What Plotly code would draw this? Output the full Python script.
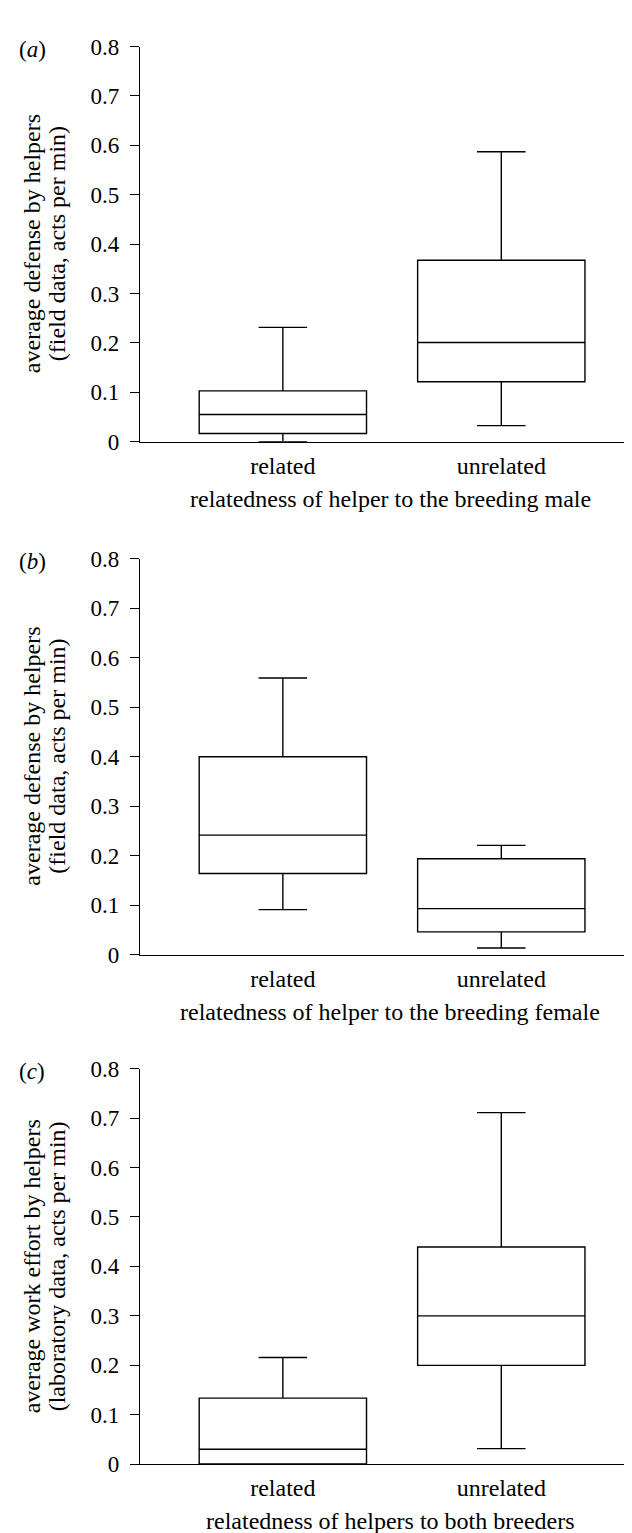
import plotly.graph_objects as go

# ---- data ----
categories = ["related", "unrelated"]
y_ticks = [0, 0.1, 0.2, 0.3, 0.4, 0.5, 0.6, 0.7, 0.8]
y_ticktext = ["0", "0.1", "0.2", "0.3", "0.4", "0.5", "0.6", "0.7", "0.8"]

# panel (a): related / unrelated to breeding male
a_low = [0.0, 0.0325]
a_q1 = [0.0166, 0.1214]
a_med = [0.055, 0.201]
a_q3 = [0.103, 0.3675]
a_high = [0.2315, 0.587]

# panel (b): related / unrelated to breeding female
b_low = [0.0908, 0.0133]
b_q1 = [0.1637, 0.0457]
b_med = [0.2413, 0.0928]
b_q3 = [0.3997, 0.1935]
b_high = [0.559, 0.2207]

# panel (c): related / unrelated to both breeders (laboratory)
c_low = [0.0, 0.0312]
c_q1 = [0.0, 0.1997]
c_med = [0.0299, 0.2998]
c_q3 = [0.1333, 0.439]
c_high = [0.2156, 0.711]

panel_labels = ["(<i>a</i>)", "(<i>b</i>)", "(<i>c</i>)"]
x_titles = [
    "relatedness of helper to the breeding male",
    "relatedness of helper to the breeding female",
    "relatedness of helpers to both breeders",
]
y_title_line1 = [
    "average defense by helpers",
    "average defense by helpers",
    "average work effort by helpers",
]
y_title_line2 = [
    "(field data, acts per min)",
    "(field data, acts per min)",
    "(laboratory data, acts per min)",
]

W, H = 632, 1533
FONT = "Liberation Serif"

# pixel geometry of each panel: y of 0.8 and y of 0
panel_px = [(27, 428.7), (547.7, 950), (1066, 1468)]
x_left_px = 132

fig = go.Figure()

data_sets = [
    (a_low, a_q1, a_med, a_q3, a_high),
    (b_low, b_q1, b_med, b_q3, b_high),
    (c_low, c_q1, c_med, c_q3, c_high),
]

annotations = []
for i, (low, q1, med, q3, high) in enumerate(data_sets):
    xa = "x" if i == 0 else f"x{i+1}"
    ya = "y" if i == 0 else f"y{i+1}"
    fig.add_trace(go.Box(
        x=[0, 1], q1=q1, median=med, q3=q3,
        lowerfence=low, upperfence=high,
        width=0.766, whiskerwidth=0.29,
        fillcolor="white",
        line=dict(color="black", width=1.4),
        boxpoints=False, hoverinfo="skip",
        xaxis=xa, yaxis=ya, showlegend=False,
    ))
    top_px, bot_px = panel_px[i]
    dom = [1 - bot_px / H, 1 - top_px / H]
    xkey = "xaxis" if i == 0 else f"xaxis{i+1}"
    ykey = "yaxis" if i == 0 else f"yaxis{i+1}"
    fig.update_layout(**{
        xkey: dict(
            domain=[x_left_px / W, 1], range=[-0.654, 1.635],
            tickvals=[0, 1], ticktext=categories,
            showline=True, linecolor="black", linewidth=1.4,
            ticks="outside", ticklen=2, tickcolor="rgba(0,0,0,0)",
            showgrid=False, zeroline=False, anchor=ya,
            tickfont=dict(family=FONT, size=24, color="black"),
            fixedrange=True,
        ),
        ykey: dict(
            domain=dom, range=[0, 0.8],
            tickvals=y_ticks, ticktext=y_ticktext,
            showline=True, linecolor="black", linewidth=1.4,
            ticks="outside", ticklen=9, tickwidth=1.4, tickcolor="black",
            ticklabelstandoff=6,
            showgrid=False, zeroline=False, anchor=xa,
            tickfont=dict(family=FONT, size=23, color="black"),
            fixedrange=True,
        ),
    })
    mid_px = (top_px + bot_px) / 2
    # panel label
    annotations.append(dict(
        text=panel_labels[i], x=9 / W, y=1 - (top_px + 3) / H,
        xref="paper", yref="paper", xanchor="left", yanchor="middle",
        showarrow=False, font=dict(family=FONT, size=23, color="black"),
    ))
    # y title (two lines)
    annotations.append(dict(
        text=y_title_line1[i], x=24 / W, y=1 - mid_px / H,
        xref="paper", yref="paper", xanchor="center", yanchor="middle",
        textangle=-90, showarrow=False,
        font=dict(family=FONT, size=24, color="black"),
    ))
    annotations.append(dict(
        text=y_title_line2[i], x=49 / W, y=1 - mid_px / H,
        xref="paper", yref="paper", xanchor="center", yanchor="middle",
        textangle=-90, showarrow=False,
        font=dict(family=FONT, size=24, color="black"),
    ))
    # x title
    annotations.append(dict(
        text=x_titles[i], x=(x_left_px + W) / 2 / W, y=1 - (bot_px + 58) / H,
        xref="paper", yref="paper", xanchor="center", yanchor="middle",
        showarrow=False, font=dict(family=FONT, size=24, color="black"),
    ))

fig.update_layout(
    width=W, height=H,
    margin=dict(l=0, r=0, t=0, b=0),
    paper_bgcolor="white", plot_bgcolor="white",
    annotations=annotations,
    showlegend=False,
)

fig.write_html("out.html")
